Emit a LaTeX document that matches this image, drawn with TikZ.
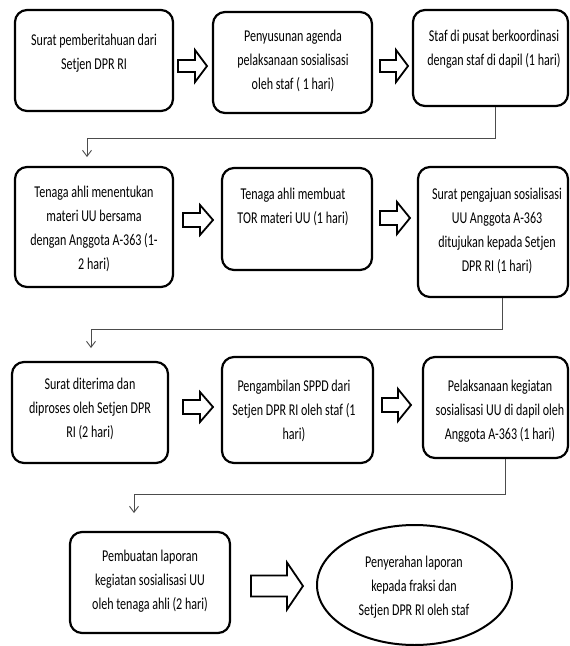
\documentclass[tikz,border=0pt]{standalone}
\usepackage{fontspec}
\setmainfont{Carlito}[FakeStretch=0.73]
\usetikzlibrary{arrows.meta,shapes.geometric}
\begin{document}
\begin{tikzpicture}[x=1pt,y=-1pt,
 box/.style={draw=black, line width=2.2pt, rounded corners=12pt, inner sep=0pt},
 oval/.style={draw=black, line width=2pt, ellipse, inner sep=0pt},
 txt/.style={anchor=north, inner sep=0pt, align=center, font=\fontsize{16.5}{24}\selectfont},
 barrow/.style={draw=black, line width=1.8pt, fill=white, line join=miter},
 conn/.style={draw=black!70, line width=0.9pt, -{Straight Barb[length=6pt,width=9pt]}}]
\useasboundingbox (0,0) rectangle (570,646);
% boxes
\node[box, minimum width=158pt, minimum height=101pt] (A) at (94,60.5) {};
\node[box, minimum width=159pt, minimum height=101pt] (B) at (292.5,62.5) {};
\node[box, minimum width=155pt, minimum height=96pt] (C) at (490.5,58) {};
\node[box, minimum width=158pt, minimum height=120pt] (D) at (94,227) {};
\node[box, minimum width=150pt, minimum height=102pt] (E) at (297,219) {};
\node[box, minimum width=150pt, minimum height=130pt] (F) at (493,232) {};
\node[box, minimum width=156pt, minimum height=101pt] (G) at (90,412.5) {};
\node[box, minimum width=151pt, minimum height=106pt] (H) at (297.5,410) {};
\node[box, minimum width=145pt, minimum height=101pt] (I) at (495.5,407.5) {};
\node[box, minimum width=160pt, minimum height=101pt] (J) at (150,582.5) {};
\node[oval, minimum width=195pt, minimum height=120pt] (K) at (414.5,585) {};
% texts
\node[txt] (tA) at (94,34) {Surat pemberitahuan dari\\Setjen DPR RI};
\node[txt] (tB) at (293,30) {Penyusunan agenda\\pelaksanaan sosialisasi\\oleh staf ( 1 hari)};
\node[txt] (tC) at (494,30) {Staf di pusat berkoordinasi\\dengan staf di dapil (1 hari)};
\node[txt] (tD) at (94,186) {Tenaga ahli menentukan\\materi UU bersama\\dengan Anggota A-363 (1-\\2 hari)};
\node[txt] (tE) at (293,188) {Tenaga ahli membuat\\TOR materi UU (1 hari)};
\node[txt] (tF) at (497,188) {Surat pengajuan sosialisasi\\UU Anggota A-363\\ditujukan kepada Setjen\\DPR RI (1 hari)};
\node[txt] (tG) at (90,378) {Surat diterima dan\\diproses oleh Setjen DPR\\RI (2 hari)};
\node[txt] (tH) at (294,380) {Pengambilan SPPD dari\\Setjen DPR RI oleh staf (1\\hari)};
\node[txt] (tI) at (500,380) {Pelaksanaan kegiatan\\sosialisasi UU di dapil oleh\\Anggota A-363 (1 hari)};
\node[txt] (tJ) at (150,550) {Pembuatan laporan\\kegiatan sosialisasi UU\\oleh tenaga ahli (2 hari)};
\node[txt] (tK) at (414,556) {Penyerahan laporan\\kepada fraksi dan\\Setjen DPR RI oleh staf};
% block arrows
\draw[barrow, shift={(178,66)}] (0,-6) -- (17,-6) -- (17,-16) -- (29,0) -- (17,16) -- (17,6) -- (0,6) -- cycle;
\draw[barrow, shift={(380,66)}] (0,-6) -- (16,-6) -- (16,-16) -- (28,0) -- (16,16) -- (16,6) -- (0,6) -- cycle;
\draw[barrow, shift={(183,220)}] (0,-7) -- (17,-7) -- (17,-15) -- (30,0) -- (17,15) -- (17,7) -- (0,7) -- cycle;
\draw[barrow, shift={(380,218)}] (0,-7) -- (17,-7) -- (17,-16) -- (30,0) -- (17,16) -- (17,7) -- (0,7) -- cycle;
\draw[barrow, shift={(183,407)}] (0,-7) -- (17,-7) -- (17,-15) -- (30,0) -- (17,15) -- (17,7) -- (0,7) -- cycle;
\draw[barrow, shift={(382,405)}] (0,-7) -- (16,-7) -- (16,-16) -- (29,0) -- (16,16) -- (16,7) -- (0,7) -- cycle;
\draw[barrow, shift={(251,586)}] (0,-10.5) -- (36,-10.5) -- (36,-23.5) -- (52,0) -- (36,23.5) -- (36,10.5) -- (0,10.5) -- cycle;
% connectors
\coordinate (d1) at (87,157);
\coordinate (d2) at (91,348);
\coordinate (d3) at (134,513);
\draw[conn] ([xshift=4.5pt]C.south) -- ++(0,31) -| (d1);
\draw[conn] ([xshift=9pt]F.south) -- ++(0,31) -| (d2);
\draw[conn] ([xshift=9.5pt]I.south) -- ++(0,35) -| (d3);
\end{tikzpicture}
\end{document}
